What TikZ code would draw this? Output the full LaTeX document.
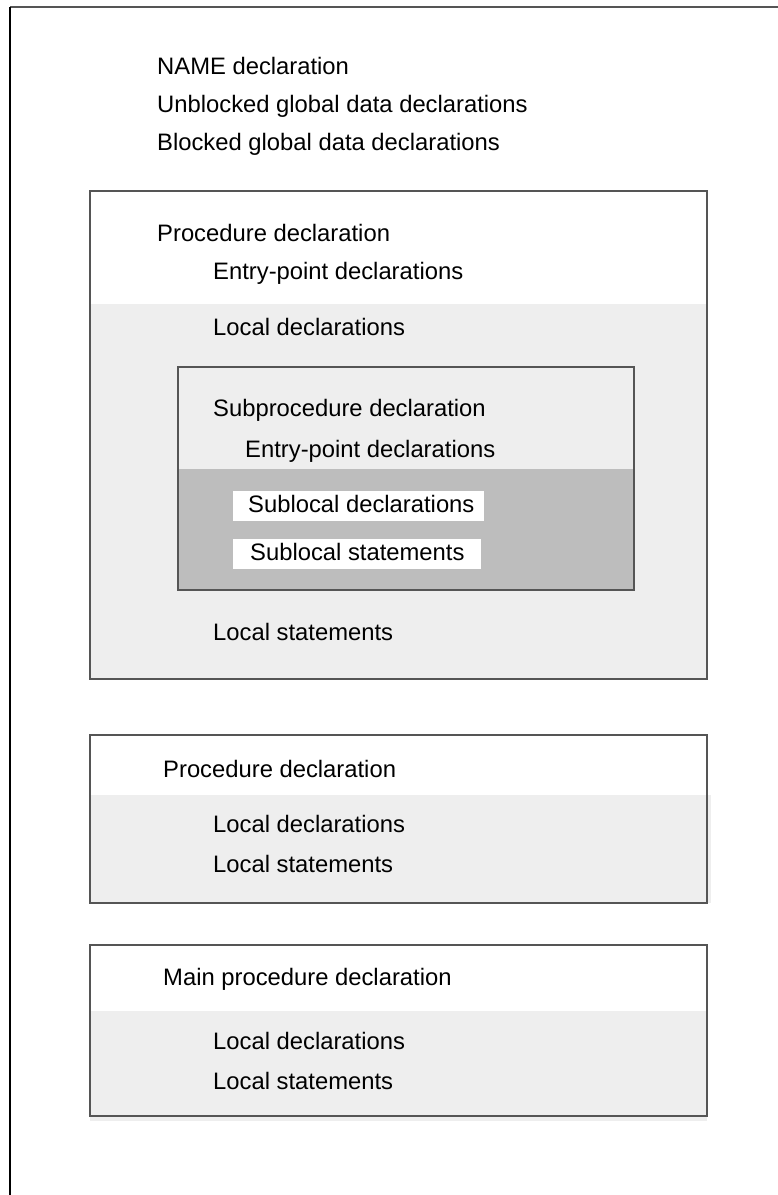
\documentclass[tikz,border=0pt]{standalone}
\usepackage{fontspec}
\setmainfont{Liberation Sans}
\definecolor{paneltint}{HTML}{EEEEEE}
\definecolor{subtint}{HTML}{BDBDBD}
\definecolor{rulegray}{HTML}{555555}
\begin{document}
\begin{tikzpicture}[x=1pt,y=-1pt,
  lbl/.style={anchor=base west,inner sep=0pt,font=\fontsize{23.8}{26}\selectfont},
  boxline/.style={draw=rulegray,line width=1.3pt},
  strip/.style={fill=white}]
\useasboundingbox (0,0) rectangle (778,1195);
\fill[white] (0,0) rectangle (778,1195);

% outer frame (open to the right and bottom)
\draw[rulegray,line width=2pt] (778,7) -- (10,7);
\draw[black,line width=2pt] (10,7) -- (10,1195);

% global declarations
\node[lbl] (name) at (157,74) {NAME declaration};
\node[lbl] (unblk) at (157,112) {Unblocked global data declarations};
\node[lbl] (blk) at (157,150) {Blocked global data declarations};

% first procedure
\fill[paneltint] (90,304) rectangle (707,679);
\draw[boxline] (90,191) rectangle (707,679);
\node[lbl] (p1) at (157,241) {Procedure declaration};
\node[lbl] (p1e) at (213,279) {Entry-point declarations};
\node[lbl] (p1d) at (213,335) {Local declarations};

% subprocedure
\fill[subtint] (178,469) rectangle (634,590);
\draw[boxline] (178,367) rectangle (634,590);
\node[lbl] (sp) at (213,416) {Subprocedure declaration};
\node[lbl] (spe) at (245,457) {Entry-point declarations};
\fill[strip] (233,491) rectangle (484,521);
\node[lbl] (sld) at (248,512) {Sublocal declarations};
\fill[strip] (233,539) rectangle (481,569);
\node[lbl] (sls) at (250,560) {Sublocal statements};

\node[lbl] (p1s) at (213,640) {Local statements};

% second procedure
\fill[paneltint] (90,795) rectangle (711,903);
\draw[boxline] (90,735) rectangle (707,903);
\node[lbl] (p2) at (163,777) {Procedure declaration};
\node[lbl] (p2d) at (213,832) {Local declarations};
\node[lbl] (p2s) at (213,872) {Local statements};

% main procedure
\fill[paneltint] (90,1011) rectangle (707,1121);
\draw[boxline] (90,945) rectangle (707,1116);
\node[lbl] (mp) at (163,985) {Main procedure declaration};
\node[lbl] (mpd) at (213,1049) {Local declarations};
\node[lbl] (mps) at (213,1089) {Local statements};
\end{tikzpicture}
\end{document}
